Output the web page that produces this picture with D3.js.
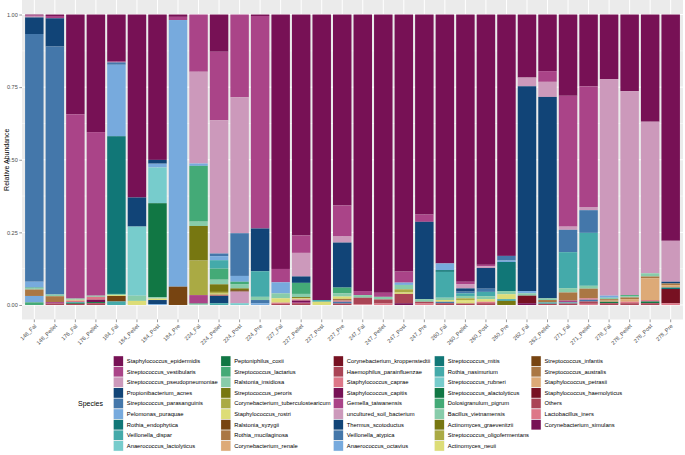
<!DOCTYPE html>
<html><head><meta charset="utf-8">
<script src="https://cdn.jsdelivr.net/npm/d3@7"></script>
<style>body{margin:0;background:#fff}svg{display:block}text{font-family:"Liberation Sans",Arial,sans-serif}</style>
</head><body>
<svg id="c" width="685" height="455"></svg>
<script>
const samples = ["148_Fal","148_Pellet","176_Fal","176_Pellet","184_Fal","184_Pellet","184_Post","184_Pre",
  "224_Fal","224_Pellet","224_Post","224_Pre","227_Fal","227_Pellet","227_Post","227_Pre",
  "247_Fal","247_Pellet","247_Post","247_Pre","260_Fal","260_Pellet","260_Post","260_Pre",
  "262_Fal","262_Pellet","271_Fal","271_Pellet","278_Fal","278_Pellet","278_Post","278_Pre"];

const species = ["Staphylococcus_epidermidis","Streptococcus_vestibularis","Streptococcus_pseudopneumoniae",
  "Propionibacterium_acnes","Streptococcus_parasanguinis","Pelomonas_puraquae","Rothia_endophytica",
  "Veillonella_dispar","Anaerococcus_lactolyticus","Peptoniphilus_coxii","Streptococcus_lactarius",
  "Ralstonia_insidiosa","Streptococcus_peroris","Corynebacterium_tuberculostearicum","Staphylococcus_rostri",
  "Ralstonia_syzygii","Rothia_mucilaginosa","Corynebacterium_renale","Corynebacterium_kroppenstedtii",
  "Haemophilus_parainfluenzae","Staphylococcus_caprae","Staphylococcus_capitis","Gemella_taiwanensis",
  "uncultured_soil_bacterium","Thermus_scotoductus","Veillonella_atypica","Anaerococcus_octavius",
  "Streptococcus_mitis","Rothia_nasimurium","Streptococcus_rubneri","Streptococcus_alactolyticus",
  "Dolosigranulum_pigrum","Bacillus_vietnamensis","Actinomyces_graevenitzii","Streptococcus_oligofermentans",
  "Actinomyces_neuii","Streptococcus_infantis","Streptococcus_australis","Staphylococcus_petrasii",
  "Staphylococcus_haemolyticus","Others","Lactobacillus_iners","Corynebacterium_simulans"];

const palette21 = ["#771155","#AA4488","#CC99BB","#114477","#4477AA","#77AADD","#117777","#44AAAA","#77CCCC",
  "#117744","#44AA77","#88CCAA","#777711","#AAAA44","#DDDD77","#774411","#AA7744","#DDAA77","#771122","#AA4455","#DD7788"];

const tickValues = [0, 0.25, 0.5, 0.75, 1];
const tickLabels = ["0.00", "0.25", "0.50", "0.75", "1.00"];

// values per species, one per sample (same order as samples)
const s01 = [0.003,0.005,0.343,0.404, 0.162,0.630,0.500,0.008, 0,0.128,0,0.005, 0.876,0.759,0.983,0.658, 0.952,0.958,0.885,0.688, 0.857,0.920,0.860,0.831, 0.217,0.195,0.280,0.247, 0.222,0.264,0.369,0.779];
const s02 = [0.004,0.008,0.634,0.562, 0.003,0,0,0.011, 0.197,0.236,0.285,0.731, 0.046,0.060,0,0.107, 0.014,0.014,0.038,0.025, 0,0.008,0.005,0, 0,0.037,0.451,0.415, 0,0,0,0];
const s03 = [0.003,0,0,0, 0,0,0,0, 0.316,0.458,0.468,0, 0,0.081,0,0.021, 0,0,0,0, 0,0.015,0.006,0, 0.030,0.052,0.011,0.011, 0.745,0.702,0.522,0.141];
const s04 = [0.057,0.097,0,0, 0,0.100,0.013,0, 0,0,0,0.147, 0,0.022,0,0.155, 0,0,0,0.266, 0,0.011,0.071,0, 0.705,0.694,0,0, 0,0,0,0.006];
const s05 = [0.852,0.852,0,0, 0.008,0,0,0, 0,0.009,0.147,0, 0,0,0,0, 0,0,0,0, 0,0.006,0.011,0.016, 0,0,0.077,0.078, 0,0,0,0];
const s06 = [0.020,0,0,0, 0.246,0,0.013,0.918, 0.008,0.014,0.020,0, 0.038,0,0,0, 0,0,0.008,0, 0.023,0,0,0.005, 0.008,0,0,0, 0.007,0,0,0];
const s07 = [0,0,0,0, 0.543,0,0,0, 0,0,0,0, 0,0,0,0, 0,0,0,0, 0.006,0,0,0.100, 0,0,0,0, 0,0,0,0];
const s08 = [0,0,0,0, 0,0,0,0, 0,0.029,0,0.088, 0,0,0.006,0, 0,0,0,0, 0.089,0.009,0.015,0, 0,0,0.124,0.182, 0,0,0,0];
const s09 = [0,0,0,0, 0,0.238,0.123,0, 0,0,0,0, 0,0,0,0, 0,0,0,0, 0,0,0,0, 0,0,0,0, 0,0,0,0];
const s10 = [0,0,0,0, 0,0,0.323,0, 0,0,0,0, 0,0,0,0, 0,0,0,0, 0,0,0,0, 0,0,0,0, 0,0,0,0];
const s11 = [0.003,0,0,0, 0,0,0,0, 0.192,0.038,0.008,0, 0,0.038,0,0.020, 0,0,0,0, 0,0,0,0, 0,0,0,0, 0,0.004,0,0];
const s12 = [0.004,0.006,0.004,0.004, 0.004,0.018,0.005,0, 0.015,0.016,0.015,0.011, 0.017,0.011,0,0.011, 0.009,0.009,0.015,0.009, 0.008,0.008,0.010,0.011, 0.008,0.006,0.015,0.010, 0.005,0.004,0.011,0];
const s13 = [0,0,0,0, 0,0,0,0, 0.119,0.026,0.006,0, 0,0.004,0,0, 0,0,0,0, 0,0,0,0, 0,0,0,0, 0,0,0,0];
const s14 = [0,0,0,0, 0,0,0,0, 0.119,0.006,0,0, 0,0,0,0, 0,0,0.011,0, 0,0.006,0,0, 0,0,0,0, 0,0,0,0];
const s15 = [0,0,0.003,0, 0.003,0.014,0.005,0, 0,0.003,0,0, 0.015,0.004,0.011,0.008, 0,0,0.005,0, 0.006,0.006,0.009,0.017, 0,0,0,0, 0,0,0,0];
const s16 = [0,0,0,0, 0.019,0,0,0.063, 0,0,0.005,0, 0,0,0,0, 0,0,0,0, 0,0,0,0, 0,0,0,0, 0,0,0,0];
const s17 = [0.022,0.020,0,0, 0,0,0,0, 0,0.003,0,0, 0,0,0,0.006, 0,0,0,0, 0,0,0,0, 0,0.008,0.028,0.033, 0.005,0.006,0.006,0.006];
const s18 = [0,0,0,0, 0,0,0,0, 0,0,0,0, 0,0,0,0, 0,0,0,0, 0,0,0,0, 0,0,0,0, 0.004,0.009,0.075,0.008];
const s19 = [0,0,0,0, 0,0,0,0, 0,0,0,0, 0,0,0,0, 0,0,0,0, 0,0,0,0, 0,0,0,0, 0,0,0,0];
const s20 = [0,0,0,0, 0,0,0,0, 0,0.002,0,0, 0,0,0,0, 0,0,0,0, 0,0,0,0, 0,0,0,0, 0,0,0,0];
const s21 = [0,0,0.005,0.010, 0,0,0,0, 0,0,0,0, 0.004,0.004,0,0.004, 0,0,0,0, 0,0,0.005,0, 0,0,0,0.005, 0,0.005,0.005,0];
const s22 = [0,0,0,0.008, 0,0,0,0, 0,0,0,0, 0,0.005,0,0, 0,0,0,0, 0,0,0,0, 0,0,0,0, 0,0,0,0];
const s23 = [0,0.005,0,0, 0,0,0,0, 0.029,0,0,0, 0,0.004,0,0, 0,0,0,0, 0,0,0,0, 0,0,0.006,0, 0,0,0,0];
const s24 = [0,0,0,0, 0,0,0,0, 0,0,0.040,0, 0,0,0,0, 0,0,0,0, 0,0,0,0, 0,0,0,0, 0,0,0,0];
const s25 = [0,0,0,0, 0,0,0.014,0, 0,0.025,0,0, 0,0,0,0, 0,0,0,0, 0,0,0,0, 0,0,0,0, 0,0,0,0];
const s26 = [0,0,0,0, 0,0,0,0, 0,0,0,0.011, 0,0,0,0.006, 0,0,0,0, 0.005,0,0,0, 0,0,0,0.006, 0,0,0,0];
const s27 = [0.022,0,0,0, 0,0,0.003,0, 0,0,0,0.006, 0,0,0,0, 0,0,0,0, 0,0,0,0, 0,0,0,0, 0,0,0,0];
const s28 = [0,0,0,0, 0,0,0,0, 0,0,0,0, 0,0,0,0, 0,0,0,0, 0,0,0,0, 0,0,0,0, 0,0,0,0.005];
const s29 = [0,0,0.003,0, 0.012,0,0,0, 0,0.006,0,0, 0,0,0,0, 0,0,0,0, 0,0,0,0.006, 0,0.005,0.004,0, 0,0,0,0];
const s30 = [0,0,0,0, 0,0,0,0, 0,0,0.006,0, 0,0,0,0, 0,0,0,0, 0,0,0,0, 0,0,0,0, 0,0,0,0];
const s31 = [0,0,0.003,0.004, 0,0,0,0, 0,0,0,0, 0,0,0,0, 0,0,0,0, 0,0,0,0, 0,0,0,0, 0.005,0,0.006,0];
const s32 = [0.009,0,0,0, 0,0,0,0, 0.003,0,0,0, 0,0,0,0, 0,0,0,0, 0,0,0,0, 0,0,0,0, 0,0,0,0];
const s33 = [0,0,0,0, 0,0,0,0, 0.002,0,0,0, 0,0,0,0, 0,0,0,0, 0,0,0,0, 0,0,0,0, 0,0,0,0];
const s34 = [0,0,0,0, 0,0,0,0, 0,0,0,0, 0,0,0,0, 0,0,0,0, 0,0,0,0.014, 0,0,0,0, 0,0,0,0];
const s35 = [0,0,0,0, 0,0,0,0, 0,0,0,0, 0,0,0,0, 0,0,0,0, 0,0,0,0, 0,0,0,0, 0,0,0,0];
const s36 = [0,0,0,0, 0,0,0,0, 0,0,0,0, 0,0,0,0, 0,0,0,0, 0,0.006,0,0, 0,0,0,0, 0,0,0,0];
const s37 = [0,0,0,0, 0,0,0,0, 0,0,0,0, 0,0,0,0, 0,0,0,0, 0,0,0,0, 0,0,0,0, 0,0,0,0];
const s38 = [0,0,0,0, 0,0,0,0, 0,0,0,0, 0,0,0,0, 0,0,0,0, 0,0,0,0, 0,0,0,0, 0,0,0,0];
const s39 = [0,0,0,0, 0,0,0,0, 0,0,0,0, 0,0,0,0, 0,0,0,0, 0,0,0,0, 0,0,0,0, 0,0,0,0];
const s40 = [0,0,0,0, 0,0,0,0, 0,0,0,0, 0,0,0,0, 0,0,0,0, 0,0,0,0, 0.026,0,0,0, 0,0,0,0.049];
const s41 = [0,0.005,0.004,0.006, 0,0,0,0, 0,0,0,0, 0.004,0.006,0,0.005, 0.023,0.014,0.032,0.006, 0.006,0.005,0.006,0, 0,0.004,0.005,0.008, 0.006,0.006,0.006,0];
const s42 = [0,0,0,0, 0,0,0,0, 0,0,0,0, 0,0,0,0, 0.002,0.005,0,0.005, 0,0,0,0, 0,0,0,0.004, 0,0,0,0.006];
const s43 = [0,0,0,0, 0,0,0,0, 0,0,0,0, 0,0,0,0, 0,0,0.006,0, 0,0,0,0, 0.006,0,0,0, 0,0,0,0];

const seriesValues = [s01,s02,s03,s04,s05,s06,s07,s08,s09,s10,s11,s12,s13,s14,s15,s16,s17,s18,s19,s20,
  s21,s22,s23,s24,s25,s26,s27,s28,s29,s30,s31,s32,s33,s34,s35,s36,s37,s38,s39,s40,s41,s42,s43];

// ---- layout ----
const svg = d3.select("#c");
const P = {left: 22, right: 683, top: 0, bottom: 319.5};
const color = d3.scaleOrdinal().domain(species).range(species.map((d, i) => palette21[i % palette21.length]));

const x = d3.scaleBand().domain(samples).range([P.left, P.right]).paddingInner(0.1).paddingOuter(0.15);
const y = d3.scaleLinear().domain([-0.05, 1.05]).range([P.bottom, P.top]);

// panel background
svg.append("rect").attr("x", P.left).attr("y", P.top).attr("width", P.right - P.left)
  .attr("height", P.bottom - P.top).attr("fill", "#EBEBEB");

// grid
const minor = d3.range(tickValues.length - 1).map(i => (tickValues[i] + tickValues[i + 1]) / 2);
svg.append("g").selectAll("line").data(minor).join("line")
  .attr("x1", P.left).attr("x2", P.right).attr("y1", d => y(d)).attr("y2", d => y(d))
  .attr("stroke", "#fff").attr("stroke-width", 0.5);
svg.append("g").selectAll("line").data(tickValues).join("line")
  .attr("x1", P.left).attr("x2", P.right).attr("y1", d => y(d)).attr("y2", d => y(d))
  .attr("stroke", "#fff").attr("stroke-width", 1);
svg.append("g").selectAll("line").data(samples).join("line")
  .attr("y1", P.top).attr("y2", P.bottom)
  .attr("x1", d => x(d) + x.bandwidth() / 2).attr("x2", d => x(d) + x.bandwidth() / 2)
  .attr("stroke", "#fff").attr("stroke-width", 1);

// stacked data
const rows = samples.map((s, i) => {
  const o = {sample: s};
  species.forEach((sp, j) => { o[sp] = seriesValues[j][i]; });
  return o;
});
const stacked = d3.stack().keys(species).order(d3.stackOrderReverse).offset(d3.stackOffsetExpand)(rows);

svg.append("g").selectAll("g").data(stacked).join("g")
  .attr("fill", d => color(d.key))
  .selectAll("rect").data(d => d.filter(v => v[1] - v[0] > 0)).join("rect")
  .attr("x", d => x(d.data.sample)).attr("width", x.bandwidth())
  .attr("y", d => y(d[1])).attr("height", d => y(d[0]) - y(d[1]));

// axes
const yAxis = svg.append("g").attr("transform", `translate(${P.left},0)`)
  .call(d3.axisLeft(y).tickValues(tickValues).tickFormat((d, i) => tickLabels[i]).tickSize(2.7).tickPadding(1.5));
yAxis.select(".domain").remove();
yAxis.selectAll("line").attr("stroke", "#333").attr("stroke-width", 0.5);
yAxis.selectAll("text").attr("fill", "#4D4D4D").style("font-size", "5.6px");

const xAxis = svg.append("g").attr("transform", `translate(0,${P.bottom})`)
  .call(d3.axisBottom(x).tickSize(2.7));
xAxis.select(".domain").remove();
xAxis.selectAll("line").attr("stroke", "#333").attr("stroke-width", 0.5);
xAxis.selectAll("text").attr("fill", "#4D4D4D").style("font-size", "5.6px")
  .attr("text-anchor", "end").attr("dy", null).attr("y", 0)
  .attr("transform", "translate(2.5,7) rotate(-45)");

svg.append("text").attr("transform", `translate(9,${(y(0) + y(1)) / 2}) rotate(-90)`)
  .attr("text-anchor", "middle").attr("fill", "#000").style("font-size", "7px").text("Relative Abundance");

// legend
const colX = [113.3, 220.7, 333.3, 434.3, 531];
const rowsPer = 9, keyH = 10.6, keyTop = 355.8;
svg.append("text").attr("x", 78).attr("y", keyTop + rowsPer * keyH / 2 + 2.5)
  .style("font-size", "7px").attr("fill", "#000").text("Species");
const lg = svg.append("g").selectAll("g").data(species).join("g")
  .attr("transform", (d, i) => `translate(${colX[Math.floor(i / rowsPer)]},${keyTop + (i % rowsPer) * keyH})`);
lg.append("rect").attr("width", 10.2).attr("height", keyH).attr("fill", "#F2F2F2");
lg.append("rect").attr("x", 0.4).attr("y", 0.4).attr("width", 9.4).attr("height", keyH - 0.8)
  .attr("fill", d => color(d));
lg.append("text").attr("x", 13.5).attr("y", keyH / 2 + 2).style("font-size", "5.8px").attr("fill", "#000").text(d => d);
</script>
</body></html>
